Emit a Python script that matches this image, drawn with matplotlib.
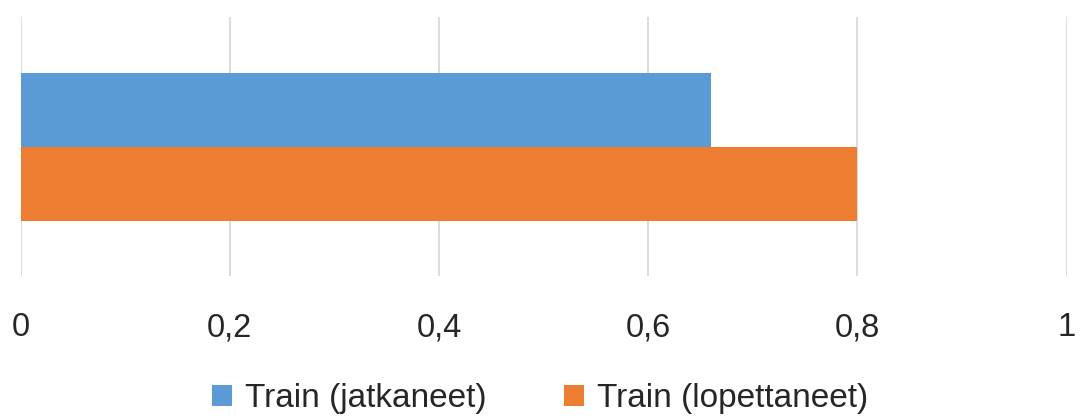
import matplotlib
matplotlib.use("Agg")
import matplotlib.pyplot as plt
from matplotlib.ticker import FuncFormatter, MultipleLocator

plt.rcParams["font.family"] = ["Liberation Sans", "DejaVu Sans"]

series = ["Train (jatkaneet)", "Train (lopettaneet)"]
values = [0.66, 0.80]
colors = ["#5B9BD5", "#ED7D31"]
text_color = "#262626"

fig = plt.figure(figsize=(10.8, 4.16), dpi=100)
ax = fig.add_axes([20.5 / 1080, 140 / 416, 1046.2 / 1080, 259 / 416])

bar_h = 74 / 259
offsets = [bar_h / 2, -bar_h / 2]
for name, val, col, off in zip(series, values, colors, offsets):
    ax.barh(off, val, height=bar_h, color=col, label=name, zorder=3)

ax.set_xlim(0, 1)
ax.set_ylim(-0.5, 0.5)
ax.xaxis.set_major_locator(MultipleLocator(0.2))
ax.xaxis.set_major_formatter(
    FuncFormatter(lambda v, _: f"{v:.1f}".rstrip("0").rstrip(".").replace(".", ",")))
ax.grid(axis="x", color="#d9d9d9", linewidth=1.3, zorder=0)
ax.set_yticks([])
ax.tick_params(axis="x", length=0, pad=26, labelsize=23.5, labelcolor=text_color)
for s in ax.spines.values():
    s.set_visible(False)

handles, labels = ax.get_legend_handles_labels()
fig.legend(handles, labels, loc="center", bbox_to_anchor=(0.5, 17 / 416), ncol=2,
           frameon=False, fontsize=24, labelcolor=text_color,
           handlelength=0.6, handleheight=0.6, handletextpad=0.4, columnspacing=2.3)

fig.savefig("out.png", dpi=100)
